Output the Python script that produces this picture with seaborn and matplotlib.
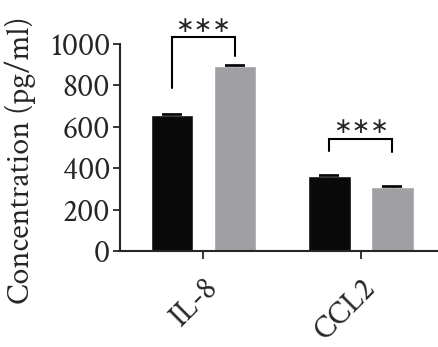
import numpy as np
import pandas as pd
import matplotlib
matplotlib.use("Agg")
import matplotlib.pyplot as plt
import seaborn as sns

cytokines = ["IL-8", "CCL2"]
groups = ["Control", "Treated"]
means = {"Control": [655, 360], "Treated": [896, 311]}
errors = {"Control": [8, 7], "Treated": [4, 5]}
bracket_tops = [1032, 542]
bracket_legs = [[787, 940], [485, 477]]
stars = ["∗∗∗", "∗∗∗"]

rows = []
for g in groups:
    for c, m in zip(cytokines, means[g]):
        rows.append({"Cytokine": c, "Group": g, "Value": m})
df = pd.DataFrame(rows)

sns.set_style("ticks")
plt.rcParams['font.family'] = ['Crimson Text', 'DejaVu Serif']

fig = plt.figure(figsize=(4.39, 3.47), dpi=100)
ax = fig.add_axes([0.273, 0.277, 0.725, 0.596])

palette = {"Control": "#0a0a0a", "Treated": "#a0a0a4"}
sns.barplot(data=df, x="Cytokine", y="Value", hue="Group", palette=palette,
            order=cytokines, hue_order=groups, width=0.8, gap=0.33,
            errorbar=None, legend=False, saturation=1, ax=ax)

# bar centres in the order seaborn draws them (hue-major)
centres = {}
for i, g in enumerate(groups):
    for j, c in enumerate(cytokines):
        p = ax.patches[i * len(cytokines) + j]
        centres[(g, c)] = p.get_x() + p.get_width() / 2

for g in groups:
    xs = [centres[(g, c)] for c in cytokines]
    ax.errorbar(xs, means[g], yerr=[np.zeros(len(xs)), errors[g]], fmt='none',
                ecolor='black', elinewidth=1.0, capsize=7, capthick=1.2)

for j, c in enumerate(cytokines):
    x1 = centres[(groups[0], c)]
    x2 = centres[(groups[1], c)]
    top = bracket_tops[j]
    l1, l2 = bracket_legs[j]
    ax.plot([x1, x1, x2, x2], [l1, top, top, l2], color='black', lw=1.5,
            clip_on=False, solid_joinstyle='miter')
    ax.text((x1 + x2) / 2, top + 55, stars[j], ha='center', va='center',
            fontsize=16, clip_on=False, family=['DejaVu Sans'])

ax.set_ylim(0, 1000)
ax.set_xlim(-0.53, 1.49)
ax.set_yticks([0, 200, 400, 600, 800, 1000])
ax.set_xlabel("")
ax.set_ylabel("Concentration (pg/ml)", fontsize=23)
ax.yaxis.set_label_coords(-0.262, 0.44)
ax.tick_params(axis='y', labelsize=23, length=5, width=1.3, pad=2)
ax.tick_params(axis='x', labelsize=23, length=6, width=1.3, pad=10)
for lab in ax.get_xticklabels():
    lab.set_rotation(45)
    lab.set_ha('right')
    lab.set_va('top')
    lab.set_rotation_mode('anchor')

sns.despine(ax=ax)
for s in ["left", "bottom"]:
    ax.spines[s].set_linewidth(1.5)

fig.savefig("out.png", dpi=100)
